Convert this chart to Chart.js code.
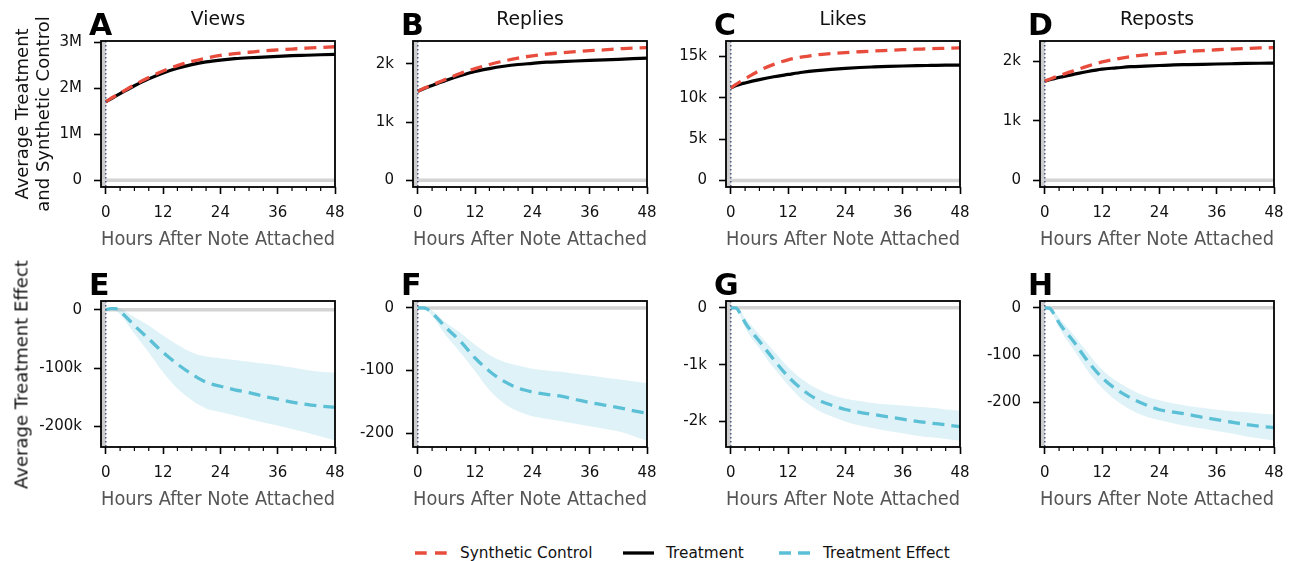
<!DOCTYPE html>
<html><head><meta charset="utf-8">
<script src="https://cdn.jsdelivr.net/npm/chart.js@4/dist/chart.umd.min.js"></script>
<style>
html,body{margin:0;padding:0;background:#fff;}
body{width:1293px;height:561px;position:relative;overflow:hidden;font-family:"DejaVu Sans",sans-serif;}
.box{position:absolute;}
.letter{position:absolute;font-weight:bold;font-size:30px;line-height:30px;color:#000;}
.ptitle{position:absolute;text-align:center;font-size:18.8px;line-height:20px;color:#111;}
.leg{position:absolute;font-size:15.3px;line-height:18px;color:#111;white-space:nowrap;}
.ytitle{position:absolute;width:320px;text-align:center;font-size:18px;line-height:21px;color:#111;transform:rotate(-90deg);transform-origin:50% 50%;white-space:nowrap;}
</style></head>
<body>
<script>
// ---------------- data ----------------
const hours = [0,1,2,3,6,9,12,15,18,21,24,27,30,33,36,39,42,45,48];

const viewsTreatment = [1710000,1770000,1830000,1890000,2060000,2210000,2340000,2440000,2520000,2580000,2620000,2650000,2670000,2685000,2700000,2715000,2725000,2735000,2745000];
const viewsControl   = [1710000,1780000,1840000,1900000,2080000,2240000,2380000,2500000,2590000,2660000,2720000,2760000,2790000,2820000,2840000,2860000,2880000,2895000,2910000];
const repliesTreatment = [1530,1565,1600,1630,1720,1800,1870,1920,1960,1990,2010,2030,2040,2050,2060,2070,2080,2090,2100];
const repliesControl   = [1530,1570,1605,1640,1740,1840,1920,1990,2050,2100,2140,2170,2190,2210,2230,2240,2260,2270,2280];
const likesTreatment = [11200,11450,11650,11800,12200,12550,12830,13100,13300,13450,13570,13670,13740,13800,13850,13890,13920,13950,13970];
const likesControl   = [11200,11600,11950,12300,13300,14050,14600,14950,15200,15350,15480,15580,15670,15750,15830,15890,15950,16000,16050];
const repostsTreatment = [1665,1690,1710,1730,1780,1830,1870,1890,1910,1920,1930,1940,1945,1950,1955,1960,1965,1968,1970];
const repostsControl   = [1665,1700,1730,1760,1840,1920,1990,2040,2080,2110,2130,2150,2170,2180,2195,2205,2215,2225,2230];

const viewsEffect = [0,2000,2000,-3000,-27000,-50000,-73000,-93000,-110000,-124000,-131000,-137000,-142000,-148000,-153000,-158000,-162000,-165000,-167000];
const viewsEffectUpper = [0,3000,4000,2000,-13000,-27000,-44000,-60000,-73000,-80000,-83000,-86000,-89000,-92000,-95000,-99000,-103000,-106000,-108000];
const viewsEffectLower = [0,1000,-1000,-8000,-41000,-73000,-107000,-135000,-155000,-169000,-175000,-181000,-187000,-193000,-198000,-204000,-210000,-217000,-224000];
const repliesEffect = [0,0,-2,-8,-32,-54,-80,-101,-117,-128,-134,-138,-141,-146,-151,-155,-159,-164,-168];
const repliesEffectUpper = [0,0,-1,-4,-24,-40,-59,-75,-86,-92,-97,-100,-102,-105,-108,-111,-114,-117,-120];
const repliesEffectLower = [0,0,-4,-13,-45,-72,-101,-131,-152,-165,-173,-177,-181,-185,-189,-193,-197,-204,-212];
const likesEffect = [0,0,-100,-260,-590,-910,-1210,-1440,-1610,-1710,-1790,-1840,-1880,-1920,-1960,-2000,-2030,-2060,-2090];
const likesEffectUpper = [0,10,-60,-180,-470,-760,-1040,-1260,-1420,-1530,-1600,-1640,-1680,-1700,-1720,-1740,-1760,-1790,-1810];
const likesEffectLower = [0,-20,-140,-350,-710,-1060,-1360,-1620,-1790,-1910,-2000,-2070,-2120,-2170,-2210,-2250,-2280,-2310,-2340];
const repostsEffect = [0,-1,-14,-32,-71,-113,-148,-173,-191,-205,-216,-221,-226,-232,-237,-242,-247,-251,-254];
const repostsEffectUpper = [0,0,-8,-21,-57,-95,-131,-155,-173,-187,-196,-203,-208,-212,-216,-219,-221,-224,-226];
const repostsEffectLower = [0,-2,-20,-42,-88,-134,-170,-197,-216,-230,-238,-245,-251,-256,-261,-266,-272,-277,-281];

const hourTicks = [0,12,24,36,48];
const hourMinorTicks = [3,6,9,15,18,21,27,30,33,39,42,45];

const viewsTicks = [0,1000000,2000000,3000000];       const viewsTickLabels = ['0','1M','2M','3M'];
const repliesTicks = [0,1000,2000];                   const repliesTickLabels = ['0','1k','2k'];
const likesTicks = [0,5000,10000,15000];              const likesTickLabels = ['0','5k','10k','15k'];
const repostsTicks = [0,1000,2000];                   const repostsTickLabels = ['0','1k','2k'];
const viewsEffTicks = [0,-100000,-200000];            const viewsEffTickLabels = ['0','-100k','-200k'];
const repliesEffTicks = [0,-100,-200];                const repliesEffTickLabels = ['0','-100','-200'];
const likesEffTicks = [0,-1000,-2000];                const likesEffTickLabels = ['0','-1k','-2k'];
const repostsEffTicks = [0,-100,-200];                const repostsEffTickLabels = ['0','-100','-200'];

const panelLetters = ['A','B','C','D','E','F','G','H'];
const metricTitles = ['Views','Replies','Likes','Reposts'];
const legendLabels = ['Synthetic Control','Treatment','Treatment Effect'];
const xTitle = 'Hours After Note Attached';
const yTitleTop = ['Average Treatment','and Synthetic Control'];
const yTitleBottom = ['Average Treatment Effect'];

// ---------------- styles / layout ----------------
const RED = '#e84c3d', CYAN = '#5bbfd6', BAND = 'rgba(91,191,214,0.2)';
const colLeft = [101, 413, 726, 1040];
const rowTop = [41, 301];
const AREA_W = 234, AREA_H = 146, PAD_T = 10, PAD_R = 16, X_H = 65;
const FONT = '"DejaVu Sans", sans-serif';

const pts = arr => hours.map((h,i)=>({x:h, y:arr[i]}));

const panels = [
  {row:0,col:0,kind:'level',a:viewsControl,b:viewsTreatment,yMin:-145000,yMax:3035000,ticks:viewsTicks,labels:viewsTickLabels},
  {row:0,col:1,kind:'level',a:repliesControl,b:repliesTreatment,yMin:-114,yMax:2394,ticks:repliesTicks,labels:repliesTickLabels},
  {row:0,col:2,kind:'level',a:likesControl,b:likesTreatment,yMin:-800,yMax:16880,ticks:likesTicks,labels:likesTickLabels},
  {row:0,col:3,kind:'level',a:repostsControl,b:repostsTreatment,yMin:-112,yMax:2342,ticks:repostsTicks,labels:repostsTickLabels},
  {row:1,col:0,kind:'effect',m:viewsEffect,hi:viewsEffectUpper,lo:viewsEffectLower,yMin:-235000,yMax:15000,ticks:viewsEffTicks,labels:viewsEffTickLabels},
  {row:1,col:1,kind:'effect',m:repliesEffect,hi:repliesEffectUpper,lo:repliesEffectLower,yMin:-222,yMax:11,ticks:repliesEffTicks,labels:repliesEffTickLabels},
  {row:1,col:2,kind:'effect',m:likesEffect,hi:likesEffectUpper,lo:likesEffectLower,yMin:-2450,yMax:120,ticks:likesEffTicks,labels:likesEffTickLabels},
  {row:1,col:3,kind:'effect',m:repostsEffect,hi:repostsEffectUpper,lo:repostsEffectLower,yMin:-295,yMax:14.5,ticks:repostsEffTicks,labels:repostsEffTickLabels},
];

const decor = {
  id:'decor',
  beforeDatasetsDraw(chart){
    const {ctx, chartArea:a, scales:{x,y}} = chart;
    ctx.save();
    ctx.beginPath(); ctx.rect(a.left,a.top,a.width,a.height); ctx.clip();
    const x0 = x.getPixelForValue(-1), x1 = x.getPixelForValue(0);
    ctx.fillStyle = 'rgba(128,128,128,0.4)';
    ctx.fillRect(x0, a.top, x1-x0, a.height);
    const y0 = y.getPixelForValue(0);
    ctx.strokeStyle = '#d3d3d3'; ctx.lineWidth = 3.5;
    ctx.beginPath(); ctx.moveTo(a.left,y0); ctx.lineTo(a.right,y0); ctx.stroke();
    ctx.restore();
  },
  afterDatasetsDraw(chart){
    const {ctx, chartArea:a, scales:{x}} = chart;
    ctx.save();
    const xv = x.getPixelForValue(0);
    ctx.strokeStyle = '#4b5682'; ctx.lineWidth = 1.5; ctx.setLineDash([1.5,2.5]);
    ctx.beginPath(); ctx.moveTo(xv,a.top); ctx.lineTo(xv,a.bottom); ctx.stroke();
    ctx.setLineDash([]);
    ctx.strokeStyle = '#000'; ctx.lineWidth = 1.2;
    hourMinorTicks.forEach(h=>{
      const px = x.getPixelForValue(h);
      ctx.beginPath(); ctx.moveTo(px,a.bottom); ctx.lineTo(px,a.bottom+4); ctx.stroke();
    });
    ctx.lineWidth = 1.8;
    ctx.strokeRect(a.left,a.top,a.width,a.height);
    ctx.restore();
  }
};

function zeroPad(s){ s.paddingTop = 0; s.paddingBottom = 0; s.paddingLeft = 0; s.paddingRight = 0; }

panels.forEach((p,idx)=>{
  const yw = 70;
  const div = document.createElement('div');
  div.className='box';
  const W = yw + AREA_W + PAD_R, H = PAD_T + AREA_H + X_H;
  div.style.left = (colLeft[p.col]-yw)+'px';
  div.style.top = (rowTop[p.row]-PAD_T)+'px';
  div.style.width = W+'px'; div.style.height = H+'px';
  const cv = document.createElement('canvas');
  div.appendChild(cv);
  document.body.appendChild(div);

  let datasets;
  if(p.kind==='level'){
    datasets = [
      {label:legendLabels[0], data:pts(p.a), borderColor:RED, borderWidth:3.3, borderDash:[12,7], pointRadius:0, fill:false, cubicInterpolationMode:'monotone', order:0},
      {label:legendLabels[1], data:pts(p.b), borderColor:'#000', borderWidth:3.2, pointRadius:0, fill:false, cubicInterpolationMode:'monotone', order:1},
    ];
  } else {
    datasets = [
      {label:legendLabels[2], data:pts(p.m), borderColor:CYAN, borderWidth:3.3, borderDash:[12,7], pointRadius:0, fill:false, cubicInterpolationMode:'monotone', order:0},
      {label:'lower', data:pts(p.lo), borderWidth:0, borderColor:'rgba(0,0,0,0)', pointRadius:0, fill:false, cubicInterpolationMode:'monotone', order:2},
      {label:'upper', data:pts(p.hi), borderWidth:0, borderColor:'rgba(0,0,0,0)', backgroundColor:BAND, pointRadius:0, fill:1, cubicInterpolationMode:'monotone', order:1},
    ];
  }

  new Chart(cv, {
    type:'line',
    data:{datasets},
    options:{
      responsive:true, maintainAspectRatio:false, animation:false,
      layout:{padding:{left:0,top:PAD_T,right:PAD_R,bottom:0}},
      plugins:{legend:{display:false}, tooltip:{enabled:false}},
      scales:{
        x:{type:'linear', min:-1, max:48,
           afterBuildTicks(s){ s.ticks = hourTicks.map(v=>({value:v})); },
           afterFit(s){ s.height = X_H; zeroPad(s); },
           ticks:{color:'#111', font:{family:FONT,size:15}, padding:10, maxRotation:0, autoSkip:false, callback:v=>String(v)},
           grid:{display:true, drawOnChartArea:false, drawTicks:true, tickLength:7, tickWidth:1.6, tickColor:'#000'},
           border:{display:false},
           title:{display:true, text:xTitle, color:'#555', font:{family:FONT,size:20,lineHeight:1.2}, padding:{top:0,bottom:0}}
        },
        y:{type:'linear', min:p.yMin, max:p.yMax,
           afterBuildTicks(s){ s.ticks = p.ticks.map(v=>({value:v})); },
           afterFit(s){ s.width = yw; zeroPad(s); },
           ticks:{color:'#111', font:{family:FONT,size:15}, padding:12, autoSkip:false,
                  callback:(v)=>{ const i = p.ticks.indexOf(v); return i>=0 ? p.labels[i] : ''; }},
           grid:{display:true, drawOnChartArea:false, drawTicks:true, tickLength:7, tickWidth:1.6, tickColor:'#000'},
           border:{display:false},
           title:{display:false}
        }
      }
    },
    plugins:[decor]
  });

  const L = document.createElement('div');
  L.className='letter'; L.textContent = panelLetters[idx];
  L.style.left = (colLeft[p.col]-12)+'px';
  L.style.top = (rowTop[p.row]-31)+'px';
  document.body.appendChild(L);
  if(p.row===0){
    const T = document.createElement('div');
    T.className='ptitle'; T.textContent = metricTitles[p.col];
    T.style.left = colLeft[p.col]+'px'; T.style.width = AREA_W+'px';
    T.style.top = (rowTop[p.row]-32)+'px';
    document.body.appendChild(T);
  }
  if(p.col===0){
    const lines = p.row===0 ? yTitleTop : yTitleBottom;
    const Y = document.createElement('div');
    Y.className='ytitle';
    lines.forEach((ln,i)=>{ const d=document.createElement('div'); d.textContent=ln; Y.appendChild(d); });
    const hgt = lines.length*21;
    const cx = p.row===0 ? 31.5 : 20.5;
    const cy = rowTop[p.row] + AREA_H/2;
    Y.style.left = (cx-160)+'px';
    Y.style.top = (cy-hgt/2)+'px';
    Y.style.height = hgt+'px';
    document.body.appendChild(Y);
  }
});

// legend
const legItems = [
  {x:415, w:32, color:RED, dash:'11.7 8.3', text:legendLabels[0], tx:460},
  {x:623, w:31, color:'#000', dash:'', text:legendLabels[1], tx:666},
  {x:779, w:31, color:CYAN, dash:'12 7', text:legendLabels[2], tx:823},
];
legItems.forEach(it=>{
  const s = document.createElementNS('http://www.w3.org/2000/svg','svg');
  s.setAttribute('width', it.w); s.setAttribute('height', 8);
  s.style.position='absolute'; s.style.left = it.x+'px'; s.style.top = '548.7px';
  const ln = document.createElementNS('http://www.w3.org/2000/svg','line');
  ln.setAttribute('x1',0); ln.setAttribute('x2',it.w); ln.setAttribute('y1',4); ln.setAttribute('y2',4);
  ln.setAttribute('stroke',it.color); ln.setAttribute('stroke-width',3.3);
  if(it.dash) ln.setAttribute('stroke-dasharray',it.dash);
  s.appendChild(ln); document.body.appendChild(s);
  const t = document.createElement('div');
  t.className='leg'; t.textContent = it.text;
  t.style.left = it.tx+'px'; t.style.top = '544px';
  document.body.appendChild(t);
});
</script>
</body></html>
